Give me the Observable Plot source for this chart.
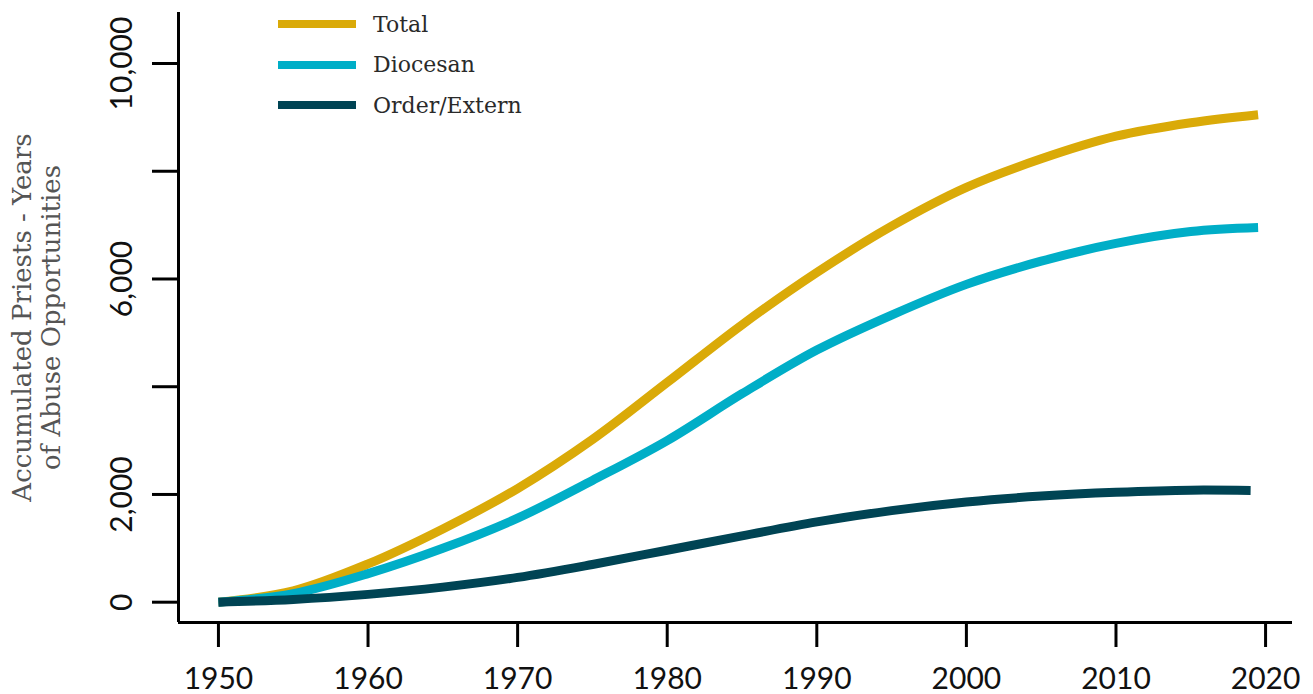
<!DOCTYPE html>
<html>
<head>
<meta charset="utf-8">
<script src="https://cdn.jsdelivr.net/npm/d3@7"></script>
<script src="https://cdn.jsdelivr.net/npm/@observablehq/plot@0.6"></script>
<style>
  html, body { margin: 0; padding: 0; background: #fff; }
  #wrap { position: relative; width: 1313px; height: 694px; }
  #wrap svg { display: block; background: #fff; }
  #legend { position: absolute; left: 278px; top: 4px; font-family: "DejaVu Serif", serif; font-size: 22px; color: #2a2a2a; }
  .row { display: flex; align-items: center; height: 40.5px; }
  .sw { width: 78px; height: 8px; margin-right: 17px; }
</style>
</head>
<body>
<div id="wrap"><div id="legend"></div></div>
<script>
// ---- data ----
const years       = [1950, 1955, 1960, 1965, 1970, 1975, 1980, 1985, 1990, 1995, 2000, 2005, 2010, 2015, 2019.5];
const total       = [0, 210, 710, 1360, 2110, 3020, 4080, 5150, 6120, 6980, 7700, 8230, 8650, 8900, 9050];
const diocesan    = [0, 160, 530, 1000, 1560, 2260, 3000, 3870, 4680, 5330, 5900, 6330, 6660, 6880, 6955];
const orderYears  = [1950, 1955, 1960, 1965, 1970, 1975, 1980, 1985, 1990, 1995, 2000, 2005, 2010, 2015, 2019];
const orderExtern = [0, 50, 145, 280, 460, 700, 965, 1230, 1490, 1700, 1860, 1970, 2040, 2080, 2073];

const seriesNames  = ["Total", "Diocesan", "Order/Extern"];
const seriesColors = ["#DAAA08", "#00AEC7", "#004454"];

const xTicks = [1950, 1960, 1970, 1980, 1990, 2000, 2010, 2020];
const xTickLabels = ["1950", "1960", "1970", "1980", "1990", "2000", "2010", "2020"];
const yTicks = [0, 2000, 4000, 6000, 8000, 10000];
const yTickLabels = ["0", "2,000", "", "6,000", "", "10,000"];
const yTitle = "Accumulated Priests - Years\nof Abuse Opportunities";

const xDomain = [1947.33, 2021.8];
const yDomain = [-377, 10947];

// ---- table ----
const rows = [];
years.forEach((y, i) => rows.push({year: y, value: total[i], series: "Total"}));
years.forEach((y, i) => rows.push({year: y, value: diocesan[i], series: "Diocesan"}));
orderYears.forEach((y, i) => rows.push({year: y, value: orderExtern[i], series: "Order/Extern"}));

const chart = Plot.plot({
  width: 1313,
  height: 694,
  marginTop: 12,
  marginRight: 21,
  marginBottom: 72,
  marginLeft: 178,
  style: {background: "#fff", overflow: "visible"},
  x: {domain: xDomain, axis: null},
  y: {domain: yDomain, axis: null},
  color: {domain: seriesNames, range: seriesColors},
  marks: [
    Plot.line(rows, {x: "year", y: "value", z: "series", stroke: "series", strokeWidth: 9,
      strokeLinecap: "butt", strokeLinejoin: "round", curve: "catmull-rom"}),
    Plot.ruleX([xDomain[0]], {stroke: "#000", strokeWidth: 3}),
    Plot.ruleY([yDomain[0]], {stroke: "#000", strokeWidth: 3, x1: xDomain[0], x2: xDomain[1]}),
    Plot.axisX({ticks: xTicks, tickSize: 25, tickFormat: () => "", stroke: "#000", strokeWidth: 3, label: null}),
    Plot.axisY({ticks: yTicks, tickSize: 26, tickFormat: () => "", stroke: "#000", strokeWidth: 3, label: null}),
    Plot.text(xTicks, {x: d => d, text: (d, i) => xTickLabels[i], frameAnchor: "bottom", dy: 57,
      lineAnchor: "middle", textAnchor: "middle", fontFamily: "Lato", fontSize: 30, fill: "#111"}),
    Plot.text(yTicks, {y: d => d, text: (d, i) => yTickLabels[i], frameAnchor: "left", dx: -56,
      rotate: -90, lineAnchor: "middle", textAnchor: "middle", fontFamily: "Lato", fontSize: 30, fill: "#111"}),
    Plot.text([yTitle], {text: d => d, frameAnchor: "left", dx: -142, rotate: -90,
      lineAnchor: "middle", textAnchor: "middle", lineHeight: 1.08,
      fontFamily: "DejaVu Serif", fontSize: 26, fill: "#555"})
  ]
});
document.getElementById("wrap").prepend(chart);

const legend = document.getElementById("legend");
seriesNames.forEach((name, i) => {
  const row = document.createElement("div");
  row.className = "row";
  const sw = document.createElement("div");
  sw.className = "sw";
  sw.style.background = seriesColors[i];
  const lab = document.createElement("span");
  lab.textContent = name;
  row.appendChild(sw);
  row.appendChild(lab);
  legend.appendChild(row);
});
</script>
</body>
</html>
